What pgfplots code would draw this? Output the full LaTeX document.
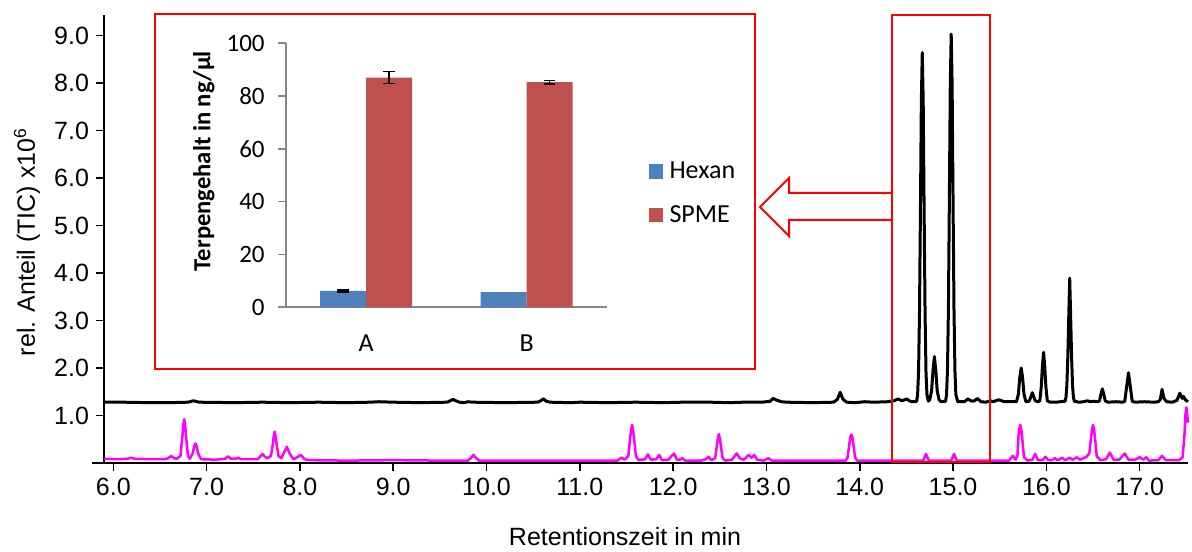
\documentclass[border=0pt]{standalone}
\usepackage{fontspec}
\setmainfont{Liberation Sans}
\newfontfamily\carlito{Carlito}
\usepackage{pgfplots}
\pgfplotsset{compat=1.18}
\usepackage{pgfplotstable}

\definecolor{hexblue}{HTML}{4F81BD}
\definecolor{spmered}{HTML}{C0504D}
\definecolor{insetgray}{HTML}{868686}
\definecolor{tracemag}{HTML}{FF00FF}

\pgfplotstableread{
x y
5.905 1.28
6.10 1.28
6.40 1.27
6.60 1.27
6.80 1.28
6.86 1.31
6.92 1.28
7.30 1.27
7.60 1.28
7.90 1.27
8.20 1.28
8.50 1.27
8.75 1.28
8.85 1.29
9.00 1.28
9.30 1.27
9.58 1.28
9.61 1.31
9.64 1.34
9.67 1.31
9.71 1.28
9.76 1.27
9.80 1.29
9.85 1.28
10.20 1.27
10.55 1.28
10.58 1.31
10.61 1.35
10.64 1.30
10.68 1.28
10.90 1.27
11.00 1.28
11.30 1.27
11.60 1.28
11.90 1.27
12.10 1.28
12.40 1.28
12.60 1.27
12.75 1.28
12.95 1.28
13.00 1.29
13.04 1.30
13.07 1.36
13.10 1.33
13.13 1.31
13.16 1.29
13.22 1.28
13.50 1.27
13.72 1.28
13.76 1.34
13.79 1.49
13.82 1.34
13.86 1.28
13.95 1.27
14.05 1.29
14.15 1.28
14.30 1.29
14.37 1.31
14.41 1.35
14.45 1.31
14.48 1.33
14.50 1.35
14.54 1.30
14.58 1.29
14.61 1.30
14.62 1.44
14.63 1.91
14.64 3.13
14.65 5.26
14.66 7.61
14.67 8.64
14.68 7.61
14.69 5.26
14.70 3.13
14.71 1.91
14.72 1.44
14.735 1.30
14.75 1.33
14.77 1.52
14.785 1.95
14.80 2.24
14.815 1.95
14.83 1.52
14.85 1.33
14.87 1.29
14.92 1.30
14.93 1.44
14.94 1.95
14.95 3.22
14.96 5.47
14.97 7.95
14.98 9.03
14.99 7.95
15.00 5.47
15.01 3.22
15.02 1.95
15.03 1.44
15.05 1.29
15.12 1.29
15.16 1.35
15.20 1.30
15.23 1.31
15.26 1.36
15.30 1.29
15.35 1.28
15.40 1.31
15.43 1.29
15.47 1.32
15.49 1.33
15.52 1.31
15.55 1.29
15.68 1.29
15.70 1.45
15.715 1.80
15.73 2.00
15.745 1.80
15.76 1.45
15.78 1.29
15.81 1.30
15.82 1.32
15.85 1.48
15.88 1.31
15.91 1.29
15.93 1.31
15.945 1.60
15.958 2.05
15.97 2.33
15.982 2.05
15.995 1.60
16.01 1.31
16.04 1.28
16.10 1.28
16.20 1.30
16.21 1.38
16.22 1.65
16.23 2.25
16.24 3.10
16.25 3.89
16.26 3.10
16.27 2.25
16.28 1.65
16.29 1.38
16.30 1.30
16.35 1.28
16.40 1.29
16.44 1.31
16.47 1.29
16.50 1.30
16.55 1.29
16.57 1.31
16.585 1.45
16.60 1.56
16.615 1.45
16.63 1.31
16.66 1.28
16.75 1.29
16.82 1.28
16.84 1.30
16.86 1.60
16.88 1.90
16.90 1.60
16.92 1.30
16.95 1.28
17.05 1.29
17.15 1.28
17.20 1.29
17.22 1.33
17.24 1.55
17.26 1.36
17.29 1.29
17.35 1.28
17.40 1.32
17.43 1.47
17.455 1.36
17.47 1.40
17.49 1.33
17.518 1.29
}\blacktrace

\pgfplotstableread{
x y
5.905 0.09
6.05 0.08
6.15 0.09
6.19 0.11
6.23 0.09
6.40 0.08
6.55 0.08
6.59 0.10
6.62 0.15
6.65 0.10
6.68 0.09
6.72 0.15
6.74 0.55
6.75 0.80
6.76 0.92
6.77 0.80
6.78 0.55
6.80 0.15
6.82 0.09
6.85 0.20
6.87 0.37
6.88 0.41
6.89 0.37
6.91 0.20
6.94 0.08
7.10 0.07
7.20 0.09
7.23 0.14
7.26 0.09
7.31 0.09
7.34 0.11
7.37 0.08
7.55 0.08
7.58 0.15
7.60 0.19
7.62 0.14
7.65 0.10
7.69 0.15
7.71 0.40
7.72 0.57
7.73 0.66
7.74 0.57
7.75 0.40
7.77 0.15
7.80 0.10
7.83 0.22
7.86 0.34
7.89 0.20
7.93 0.08
7.97 0.12
8.01 0.17
8.05 0.08
8.10 0.06
8.50 0.05
9.00 0.06
9.50 0.05
9.80 0.05
9.84 0.12
9.86 0.17
9.88 0.12
9.92 0.05
10.50 0.05
11.00 0.05
11.40 0.05
11.43 0.09
11.45 0.11
11.48 0.07
11.52 0.15
11.54 0.55
11.55 0.70
11.56 0.80
11.57 0.70
11.58 0.55
11.60 0.15
11.63 0.06
11.70 0.08
11.73 0.18
11.76 0.07
11.82 0.08
11.85 0.17
11.88 0.06
11.95 0.07
11.98 0.14
12.01 0.20
12.04 0.07
12.07 0.07
12.10 0.10
12.13 0.05
12.30 0.05
12.35 0.08
12.38 0.13
12.41 0.06
12.45 0.10
12.47 0.38
12.48 0.52
12.49 0.61
12.50 0.52
12.51 0.38
12.53 0.10
12.56 0.05
12.63 0.07
12.68 0.20
12.72 0.09
12.76 0.07
12.81 0.17
12.84 0.11
12.87 0.17
12.90 0.07
12.97 0.05
13.02 0.10
13.06 0.05
13.50 0.05
13.85 0.05
13.87 0.12
13.89 0.42
13.90 0.55
13.91 0.60
13.92 0.55
13.93 0.42
13.95 0.12
13.97 0.05
14.68 0.05
14.71 0.19
14.74 0.05
14.98 0.05
15.01 0.19
15.04 0.05
15.60 0.05
15.64 0.15
15.67 0.07
15.69 0.16
15.70 0.55
15.71 0.72
15.72 0.80
15.73 0.72
15.74 0.55
15.76 0.12
15.80 0.05
15.85 0.07
15.88 0.19
15.91 0.06
15.96 0.06
15.99 0.13
16.02 0.06
16.06 0.06
16.09 0.10
16.12 0.06
16.17 0.11
16.20 0.06
16.25 0.11
16.28 0.07
16.33 0.12
16.36 0.07
16.43 0.13
16.46 0.20
16.48 0.55
16.49 0.72
16.50 0.80
16.51 0.72
16.52 0.55
16.54 0.14
16.58 0.06
16.64 0.08
16.68 0.22
16.72 0.07
16.78 0.07
16.84 0.20
16.88 0.07
16.95 0.07
17.00 0.12
17.04 0.07
17.07 0.12
17.10 0.05
17.20 0.06
17.24 0.15
17.28 0.06
17.42 0.06
17.46 0.12
17.48 0.60
17.49 1.00
17.50 1.17
17.51 1.00
17.518 0.85
}\magentatrace

\begin{document}
\begin{tikzpicture}
\path[use as bounding box] (0pt,0pt) rectangle (596pt,275.5pt);

% main chromatogram axis
\begin{axis}[
  at={(52pt,44pt)}, anchor=south west,
  scale only axis, width=542pt, height=224pt,
  xmin=5.9003, xmax=17.518, ymin=0, ymax=9.4316,
  axis lines*=left,
  axis line style={black, line width=0.75pt},
  tick align=outside,
  major tick length=4pt,
  tick style={black, line width=0.75pt},
  xtick={6,...,17}, ytick={1,...,9},
  /pgf/number format/assume math mode=true,
  ticklabel style={font=\fontsize{12.5}{14}\selectfont},
  /pgf/number format/.cd, fixed, fixed zerofill, precision=1,
  /pgfplots/.cd,
  clip=false,
]
\addplot[black, line width=1.5pt, line join=round] table {\blacktrace};
\addplot[tracemag, line width=1.25pt, line join=round] table {\magentatrace};
\end{axis}

% inset bar chart
\begin{axis}[
  at={(142.85pt,121.85pt)}, anchor=south west,
  scale only axis, width=160.65pt, height=132pt,
  xmin=0.5, xmax=2.5, ymin=0, ymax=100,
  axis lines*=left,
  axis line style={insetgray, line width=0.8pt},
  tick align=outside, major tick length=4pt,
  xtick={1,2}, xticklabels={A,B},
  xtick style={draw=none},
  ytick={0,20,...,100},
  ytick style={insetgray, line width=0.8pt},
  /pgf/number format/assume math mode=true,
  yticklabel style={font=\carlito\fontsize{12.5}{14}\selectfont, xshift=-3pt},
  xticklabel style={font=\carlito\fontsize{13}{15}\selectfont, yshift=-6pt},
  every axis y label/.style={at={(rel axis cs:-0.255,0.554)}, rotate=90, anchor=center},
  ylabel={\carlito\bfseries\fontsize{12.3}{14}\selectfont Terpengehalt in ng/µl},
  legend image code/.code={\fill[#1] (0pt,-3.6pt) rectangle (7pt,3.6pt);},
  legend style={draw=none, fill=none, at={(rel axis cs:1.128,0.432)}, anchor=west,
    font=\carlito\fontsize{13}{15}\selectfont, row sep=9pt, inner sep=0pt,
    nodes={inner sep=1.5pt},
    /tikz/every odd column/.append style={column sep=2pt}},
  legend cell align=left,
  clip=false,
]
\addplot[forget plot, ybar, bar width=23pt, bar shift=-11.5pt, fill=hexblue, draw=none]
  coordinates {(1,6.2) (2,5.7)};
\addplot[forget plot, ybar, bar width=23pt, bar shift=11.5pt, fill=spmered, draw=none]
  coordinates {(1,87.0) (2,85.3)};
% error bars at the bar centres
\addplot[forget plot, draw=none, mark=none,
  error bars/.cd, y dir=both, y explicit,
  error bar style={draw=black, line width=0.75pt},
  error mark options={draw=black, line width=1.5pt, mark size=2.9pt, rotate=90}]
  coordinates {(0.8568,6.2) +- (0,0.3)};
\addplot[forget plot, draw=none, mark=none,
  error bars/.cd, y dir=both, y explicit,
  error bar style={draw=black, line width=0.75pt},
  error mark options={draw=black, line width=0.75pt, mark size=2.8pt, rotate=90}]
  coordinates {(1.1432,87.0) +- (0,2.25) (2.1432,85.3) +- (0,0.7)};
\addlegendimage{fill=hexblue, draw=none}
\addlegendentry{Hexan}
\addlegendimage{fill=spmered, draw=none}
\addlegendentry{SPME}
\end{axis}

\begin{scope}[shift={(0pt,275.5pt)}, x=0.5pt, y=-0.5pt]
  % axis cross extensions
  \draw[black, line width=0.75pt] (92,463) -- (104,463);
  % frames and arrow
  \draw[red, line width=1pt] (155,14) rectangle (755,369);
  \draw[red, line width=1pt] (891.7,15) rectangle (990,461.7);
  \draw[red, line width=1pt, line join=miter]
    (891.7,193) -- (789,193) -- (789,178) -- (760,207) -- (789,236) -- (789,220) -- (891.7,220);
  % axis titles
  \node[font=\fontsize{12.5}{14}\selectfont] at (625,537) {Retentionszeit in min};
  \node[font=\fontsize{12.5}{14}\selectfont, rotate=90] at (27,242) {rel. Anteil (TIC) x10\textsuperscript{6}};
\end{scope}
\end{tikzpicture}
\end{document}
